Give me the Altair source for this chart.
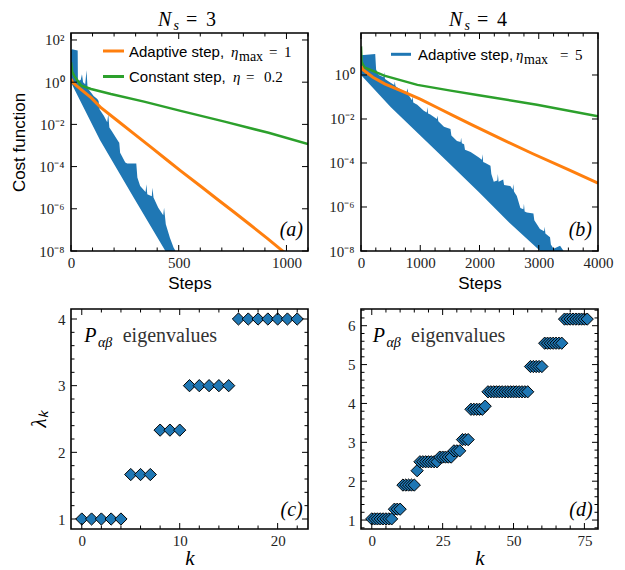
import altair as alt
import pandas as pd

SERIF = "Liberation Serif"
SANS = "Liberation Sans"
BLUE, ORANGE, GREEN = "#1f77b4", "#ff7f0e", "#2ca02c"
INK = "#222222"
W = 237
H_TOP = 218
H_BOT = 220
FLOOR = 1e-9
SUP = {"-": "\u207b", "0": "\u2070", "1": "\u00b9", "2": "\u00b2", "3": "\u00b3",
       "4": "\u2074", "5": "\u2075", "6": "\u2076", "7": "\u2077", "8": "\u2078", "9": "\u2079"}

# ---------------- (a) N_s = 3  (cost values given as log10) ----------------
a_blue_steps = [0, 4, 31, 32, 45, 51, 56, 66, 72, 77, 81, 105, 122, 128, 133, 153, 168, 173, 178, 189,
                219, 224, 228, 252, 261, 303, 308, 321, 346, 350, 354, 375, 378, 383, 405, 428, 432, 440,
                459, 476, 491]
a_blue_upper = [1.5, 1.56, 1.5, 0.06, 0.1, 0.37, 0.0, -0.1, 0.56, -0.3, -0.34, -0.65, -0.8, -0.89, -1.3,
                -1.6, -1.9, -1.52, -2.15, -2.31, -2.8, -2.87, -3.34, -3.81, -3.85, -3.85, -4.52, -4.92,
                -5.2, -4.84, -5.31, -5.4, -5.0, -5.47, -5.95, -6.3, -5.95, -6.73, -7.37, -7.84, -8.1]
a_blue_low_steps = [0, 135, 290, 444, 530]
a_blue_lower = [-0.02, -2.75, -5.45, -8.1, -9.6]
a_orange_steps = [0, 8, 46, 93, 139, 216, 293, 371, 447, 509, 602, 679, 756, 833, 911, 973, 995]
a_orange = [0.15, -0.02, -0.34, -0.73, -1.21, -1.83, -2.45, -3.08, -3.7, -4.2, -4.93, -5.55, -6.15,
            -6.77, -7.4, -7.92, -8.1]
a_green_steps = [0, 5, 15, 46, 93, 185, 339, 509, 713, 917, 1100]
a_green = [0.95, 0.5, 0.3, -0.15, -0.32, -0.56, -0.92, -1.36, -1.87, -2.4, -2.93]

# ---------------- (b) N_s = 4 ----------------
b_blue_steps = [0, 240, 255, 300, 380, 392, 405, 500, 560, 570, 582, 600, 700, 770, 784, 800, 860, 870,
                882, 950, 1060, 1110, 1120, 1132, 1170, 1280, 1290, 1305, 1400, 1510, 1525, 1620, 1680,
                1690, 1702, 1740, 1755, 1850, 1990, 2040, 2050, 2062, 2100, 2185, 2200, 2241, 2300, 2310,
                2322, 2400, 2415, 2520, 2560, 2570, 2582, 2630, 2690, 2740, 2750, 2762, 2800, 2910, 2925,
                3020, 3090, 3100, 3112, 3190, 3205, 3250, 3360, 3420, 3480]
b_blue_upper = [0.9, 0.95, 0.25, 0.0, -0.1, 0.12, -0.18, -0.35, -0.45, -0.3, -0.5, -0.55, -0.7, -0.78,
                -0.6, -0.9, -1.15, -0.95, -1.25, -1.35, -1.62, -1.7, -1.45, -1.75, -1.8, -2.0, -1.85,
                -2.1, -2.35, -2.45, -2.75, -3.0, -3.05, -2.85, -3.1, -3.15, -3.4, -3.5, -3.75, -3.85,
                -3.6, -3.95, -4.0, -4.12, -4.5, -4.85, -4.8, -4.5, -4.85, -4.75, -5.0, -5.05, -5.2,
                -4.95, -5.3, -5.5, -6.05, -6.1, -5.85, -6.2, -6.25, -6.3, -6.6, -7.0, -7.1, -6.9, -7.2,
                -7.38, -7.7, -7.9, -7.76, -8.0, -8.1]
b_blue_low_steps = [0, 500, 1000, 1500, 2000, 2500, 3025, 3300]
b_blue_lower = [0.0, -1.45, -2.75, -4.05, -5.35, -6.7, -8.0, -8.8]
b_orange_steps = [0, 28, 200, 400, 700, 1000, 1300, 1600, 1900, 2400, 2900, 3500, 4000]
b_orange = [0.4, 0.25, -0.1, -0.4, -0.75, -1.1, -1.5, -1.9, -2.3, -2.95, -3.58, -4.3, -4.92]
b_green_steps = [0, 10, 56, 392, 952, 1513, 1989, 2969, 4000]
b_green = [1.3, 0.6, 0.35, -0.03, -0.45, -0.71, -0.92, -1.35, -1.88]

# ---------------- (c), (d) eigenvalues ----------------
c_lambda = [1, 1, 1, 1, 1, 1.667, 1.667, 1.667, 2.333, 2.333, 2.333, 3, 3, 3, 3, 3,
            4, 4, 4, 4, 4, 4, 4]
d_lambda = [1.03, 1.03, 1.03, 1.03, 1.03, 1.03, 1.03, 1.03,
            1.28, 1.28, 1.28,
            1.9, 1.9, 1.9, 1.9, 1.9,
            2.27,
            2.5, 2.5, 2.5, 2.5, 2.5, 2.5, 2.5,
            2.62, 2.62, 2.62, 2.62, 2.62,
            2.78, 2.78, 2.78,
            3.07, 3.07, 3.07,
            3.85, 3.85, 3.85, 3.85, 3.85,
            3.93,
            4.3, 4.3, 4.3, 4.3, 4.3, 4.3, 4.3, 4.3, 4.3, 4.3, 4.3, 4.3, 4.3, 4.3, 4.3,
            4.95, 4.95, 4.95, 4.95, 4.95,
            5.55, 5.55, 5.55, 5.55, 5.55, 5.55, 5.55,
            6.17, 6.17, 6.17, 6.17, 6.17, 6.17, 6.17, 6.17, 6.17]

a_x_major, a_x_minor = [0, 500, 1000], [100, 200, 300, 400, 600, 700, 800, 900, 1100]
b_x_major = [0, 1000, 2000, 3000, 4000]
b_x_minor = [250, 500, 750, 1250, 1500, 1750, 2250, 2500, 2750, 3250, 3500, 3750]
a_y_exps = [2, 0, -2, -4, -6, -8]
b_y_exps = [0, -2, -4, -6, -8]
c_x_major, c_x_minor = [0, 10, 20], [2, 4, 6, 8, 12, 14, 16, 18, 22]
c_y_major = [1, 2, 3, 4]
c_y_minor = [1.2, 1.4, 1.6, 1.8, 2.2, 2.4, 2.6, 2.8, 3.2, 3.4, 3.6, 3.8]
d_x_major = [0, 25, 50, 75]
d_x_minor = [5, 10, 15, 20, 30, 35, 40, 45, 55, 60, 65, 70]
d_y_major = [1, 2, 3, 4, 5, 6]
d_y_minor = [0.8, 1.2, 1.4, 1.6, 1.8, 2.2, 2.4, 2.6, 2.8, 3.2, 3.4, 3.6, 3.8, 4.2, 4.4, 4.6, 4.8,
             5.2, 5.4, 5.6, 5.8, 6.2, 6.4]


def logdf(steps, exps):
    return pd.DataFrame({"step": steps, "val": [10.0 ** e for e in exps], "floor": FLOOR})


def one():
    return pd.DataFrame({"z": [0]})


def txt(s, x, y, size, font=SERIF, style="normal", align="left", color="black"):
    return alt.Chart(one()).mark_text(text=s, font=font, fontSize=size, fontStyle=style, align=align,
                                      baseline="alphabetic", color=color).encode(
        x=alt.value(x), y=alt.value(y))


def hline(x0, x1, y, color, width=3):
    return alt.Chart(one()).mark_rule(color=color, strokeWidth=width).encode(
        x=alt.value(x0), x2=alt.value(x1), y=alt.value(y))


def frame(w, h):
    return alt.Chart(one()).mark_rect(fillOpacity=0, stroke="black", strokeWidth=1.6).encode(
        x=alt.value(0), x2=alt.value(w), y=alt.value(0), y2=alt.value(h))


def tick_layers(X, Y, xmaj, xmin, ymaj, ymin, w, h):
    out = []
    for vals, L in ((xmaj, 6), (xmin, 3.5)):
        base = alt.Chart(pd.DataFrame({"v": vals})).mark_rule(color="black", strokeWidth=1)
        out.append(base.encode(x=X("v"), y=alt.value(h - L), y2=alt.value(h)))
        out.append(base.encode(x=X("v"), y=alt.value(0), y2=alt.value(L)))
    for vals, L in ((ymaj, 6), (ymin, 3.5)):
        if not vals:
            continue
        base = alt.Chart(pd.DataFrame({"v": vals})).mark_rule(color="black", strokeWidth=1)
        out.append(base.encode(y=Y("v"), x=alt.value(0), x2=alt.value(L)))
        out.append(base.encode(y=Y("v"), x=alt.value(w - L), x2=alt.value(w)))
    return out


def log_expr(exps):
    e = "round(log(datum.value) / LN10)"
    parts = [f"{e} == {n} ? '10{''.join(SUP[c] for c in str(n))}'" for n in exps]
    return " : ".join(parts) + " : ''"


COMMON = dict(ticks=False, tickSize=0, domain=False, grid=False, labelFont=SERIF, labelFontSize=15,
              labelColor=INK, labelFlush=False, labelOverlap=False, titleFontWeight="normal",
              titleColor="black")


def title_texts(x0, num):
    return [txt("N", x0, -7, 20, style="italic"), txt("s", x0 + 15.5, -3, 14, style="italic"),
            txt("=", x0 + 28, -7, 20), txt(num, x0 + 48, -7, 20)]


def band(df, color, X, Y):
    return alt.Chart(df).mark_area(color=color, opacity=1, clip=True).encode(
        x=X("step"), y=Y("val"), y2="floor:Q")


# ================= panel (a) =================
xs_a = alt.Scale(domain=[0, 1100], nice=False, zero=False)
ys_a = alt.Scale(type="log", domain=[1e-8, 214], nice=False)
xax_a = alt.Axis(values=a_x_major, format="d", labelPadding=4, title="Steps", titleFont=SANS,
                 titleFontSize=17, titlePadding=5, **COMMON)
yax_a = alt.Axis(values=[10.0 ** n for n in a_y_exps], labelExpr=log_expr(a_y_exps), labelPadding=7,
                 title="Cost function", titleFont=SANS, titleFontSize=17, titlePadding=10, **COMMON)
Xa = lambda f: alt.X(f"{f}:Q", scale=xs_a, axis=xax_a)
Ya = lambda f: alt.Y(f"{f}:Q", scale=ys_a, axis=yax_a)

pa = alt.layer(
    band(logdf(a_blue_steps, a_blue_upper), BLUE, Xa, Ya),
    band(logdf(a_blue_low_steps, a_blue_lower), "white", Xa, Ya),
    alt.Chart(logdf(a_green_steps, a_green)).mark_line(color=GREEN, strokeWidth=2.5, clip=True).encode(
        x=Xa("step"), y=Ya("val")),
    alt.Chart(logdf(a_orange_steps, a_orange)).mark_line(color=ORANGE, strokeWidth=3, clip=True).encode(
        x=Xa("step"), y=Ya("val")),
    *tick_layers(Xa, Ya, a_x_major, a_x_minor, [10.0 ** n for n in a_y_exps], [], W, H_TOP),
    frame(W, H_TOP),
    hline(32, 53, 18, ORANGE), hline(32, 53, 43.5, GREEN),
    txt("Adaptive step,", 58, 24, 15, font=SANS), txt("\u03b7", 160, 24, 15, style="italic"),
    txt("max", 168, 27.5, 14), txt("=", 198, 24, 15), txt("1", 213, 24, 15),
    txt("Constant step,", 58, 49, 15, font=SANS), txt("\u03b7", 162, 49, 15, style="italic"),
    txt("=", 175, 49, 15), txt("0.2", 193, 49, 15),
    txt("(a)", 232, 203, 20, style="italic", align="right"),
    *title_texts(87, "3"),
).properties(width=W, height=H_TOP)

# ================= panel (b) =================
xs_b = alt.Scale(domain=[0, 4000], nice=False, zero=False)
ys_b = alt.Scale(type="log", domain=[1e-8, 81], nice=False)
xax_b = alt.Axis(values=b_x_major, format="d", labelPadding=4, title="Steps", titleFont=SANS,
                 titleFontSize=17, titlePadding=5, **COMMON)
yax_b = alt.Axis(values=[10.0 ** n for n in b_y_exps], labelExpr=log_expr(b_y_exps), labelPadding=7,
                 title=None, **COMMON)
Xb = lambda f: alt.X(f"{f}:Q", scale=xs_b, axis=xax_b)
Yb = lambda f: alt.Y(f"{f}:Q", scale=ys_b, axis=yax_b)

pb = alt.layer(
    band(logdf(b_blue_steps, b_blue_upper), BLUE, Xb, Yb),
    band(logdf(b_blue_low_steps, b_blue_lower), "white", Xb, Yb),
    alt.Chart(logdf(b_green_steps, b_green)).mark_line(color=GREEN, strokeWidth=2.5, clip=True).encode(
        x=Xb("step"), y=Yb("val")),
    alt.Chart(logdf(b_orange_steps, b_orange)).mark_line(color=ORANGE, strokeWidth=3, clip=True).encode(
        x=Xb("step"), y=Yb("val")),
    *tick_layers(Xb, Yb, b_x_major, b_x_minor, [10.0 ** n for n in b_y_exps], [], W, H_TOP),
    frame(W, H_TOP),
    hline(30, 50, 21.3, BLUE),
    txt("Adaptive step,", 57, 27.3, 15, font=SANS), txt("\u03b7", 155, 27.3, 15, style="italic"),
    txt("max", 163, 30.8, 14), txt("=", 199, 27.3, 15), txt("5", 214, 27.3, 15),
    txt("(b)", 231, 203, 20, style="italic", align="right"),
    *title_texts(88, "4"),
).properties(width=W, height=H_TOP)

# ================= panel (c) =================
xs_c = alt.Scale(domain=[-1.1, 23.1], nice=False, zero=False)
ys_c = alt.Scale(domain=[0.85, 4.15], nice=False, zero=False)
xax_c = alt.Axis(values=c_x_major, labelPadding=4, title="k", titleFont=SERIF, titleFontSize=21,
                 titleFontStyle="italic", titlePadding=-1, **COMMON)
yax_c = alt.Axis(values=c_y_major, labelPadding=6, title="\u03bb\u2096", titleFont=SERIF, titleFontSize=21,
                 titleFontStyle="italic", titlePadding=8, **COMMON)
Xc = lambda f: alt.X(f"{f}:Q", scale=xs_c, axis=xax_c)
Yc = lambda f: alt.Y(f"{f}:Q", scale=ys_c, axis=yax_c)
df_c = pd.DataFrame({"k": list(range(len(c_lambda))), "lam": c_lambda})

pc = alt.layer(
    alt.Chart(df_c).mark_point(shape="diamond", filled=True, fill=BLUE, stroke="black", strokeWidth=1,
                               size=150, opacity=1).encode(x=Xc("k"), y=Yc("lam")),
    *tick_layers(Xc, Yc, c_x_major, c_x_minor, c_y_major, c_y_minor, W, H_BOT),
    frame(W, H_BOT),
    txt("P", 13.3, 33.4, 20, style="italic"), txt("\u03b1\u03b2", 27, 37.5, 14, style="italic"),
    txt("eigenvalues", 51.7, 33.4, 20, color="#333333"),
    txt("(c)", 231.7, 207, 20, style="italic", align="right"),
).properties(width=W, height=H_BOT)

# ================= panel (d) =================
xs_d = alt.Scale(domain=[-3.8, 79.8], nice=False, zero=False)
ys_d = alt.Scale(domain=[0.77, 6.43], nice=False, zero=False)
xax_d = alt.Axis(values=d_x_major, labelPadding=4, title="k", titleFont=SERIF, titleFontSize=21,
                 titleFontStyle="italic", titlePadding=-1, **COMMON)
yax_d = alt.Axis(values=d_y_major, labelPadding=6, title=None, **COMMON)
Xd = lambda f: alt.X(f"{f}:Q", scale=xs_d, axis=xax_d)
Yd = lambda f: alt.Y(f"{f}:Q", scale=ys_d, axis=yax_d)
df_d = pd.DataFrame({"k": list(range(len(d_lambda))), "lam": d_lambda})

pd_ = alt.layer(
    alt.Chart(df_d).mark_point(shape="diamond", filled=True, fill=BLUE, stroke="black", strokeWidth=1,
                               size=150, opacity=1).encode(x=Xd("k"), y=Yd("lam")),
    *tick_layers(Xd, Yd, d_x_major, d_x_minor, d_y_major, d_y_minor, W, H_BOT),
    frame(W, H_BOT),
    txt("P", 11.7, 33.4, 20, style="italic"), txt("\u03b1\u03b2", 25.5, 37.5, 14, style="italic"),
    txt("eigenvalues", 50, 33.4, 20, color="#333333"),
    txt("(d)", 231.7, 207, 20, style="italic", align="right"),
).properties(width=W, height=H_BOT)

chart = alt.concat(pa, pb, pc, pd_, columns=2, spacing={"row": 58, "column": 53}, bounds="flush").properties(
    padding={"left": 2, "top": 2, "right": 2, "bottom": 2}
).configure_view(stroke=None)

chart.save("out.html", embed_options={"renderer": "svg", "actions": False})
